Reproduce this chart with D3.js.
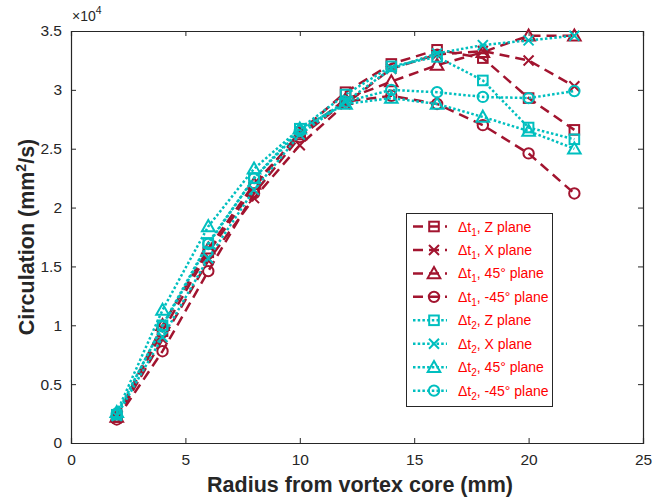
<!DOCTYPE html>
<html><head><meta charset="utf-8">
<script src="https://d3js.org/d3.v7.min.js"></script>
<style>body{margin:0;background:#fff}svg{font-family:"Liberation Sans",Arial,sans-serif}</style>
</head><body>
<svg id="c" width="654" height="498"></svg>
<script>
const radius = [2,4,6,8,10,12,14,16,18,20,22];
const t1Z   = [0.22,0.95,1.62,2.17,2.64,2.98,3.22,3.34,3.27,2.93,2.66];
const t1X   = [0.21,0.88,1.55,2.08,2.53,2.88,3.18,3.30,3.33,3.25,3.03];
const t1P45 = [0.22,1.00,1.65,2.20,2.62,2.92,3.07,3.21,3.32,3.46,3.46];
const t1M45 = [0.20,0.78,1.46,2.12,2.60,2.90,2.95,2.88,2.70,2.46,2.12];
const t2Z   = [0.24,1.00,1.70,2.25,2.67,2.96,3.20,3.28,3.08,2.68,2.58];
const t2X   = [0.23,0.90,1.57,2.15,2.62,2.90,3.18,3.31,3.38,3.42,3.46];
const t2P45 = [0.26,1.13,1.84,2.33,2.67,2.88,2.93,2.88,2.77,2.65,2.50];
const t2M45 = [0.25,0.99,1.69,2.25,2.65,2.90,3.00,2.98,2.94,2.93,2.99];
const xTicks = [0,5,10,15,20,25];
const yTicks = [0,0.5,1,1.5,2,2.5,3,3.5];
const yTickLabels = ["0","0.5","1","1.5","2","2.5","3","3.5"];
const seriesNames = ["Z plane","X plane","45° plane","-45° plane","Z plane","X plane","45° plane","-45° plane"];

const red = "#A2142F", cyan = "#00BFBF";
const series = [
  {v:t1Z, c:red, m:"square", dt:"1", name:seriesNames[0]},
  {v:t1X, c:red, m:"x", dt:"1", name:seriesNames[1]},
  {v:t1P45, c:red, m:"tri", dt:"1", name:seriesNames[2]},
  {v:t1M45, c:red, m:"circle", dt:"1", name:seriesNames[3]},
  {v:t2Z, c:cyan, m:"square", dt:"2", name:seriesNames[4]},
  {v:t2X, c:cyan, m:"x", dt:"2", name:seriesNames[5]},
  {v:t2P45, c:cyan, m:"tri", dt:"2", name:seriesNames[6]},
  {v:t2M45, c:cyan, m:"circle", dt:"2", name:seriesNames[7]}
];

const svg = d3.select("#c");
const L=71, R=643, T=31, B=443;
const x = d3.scaleLinear().domain([0,25]).range([L,R]);
const y = d3.scaleLinear().domain([0,3.5]).range([B,T]);
const axc = "#262626";

// axes
const gx = svg.append("g").attr("transform",`translate(0,${B})`)
  .call(d3.axisBottom(x).tickValues(xTicks).tickSize(-5).tickPadding(11).tickFormat(d3.format("d")));
const gxt = svg.append("g").attr("transform",`translate(0,${T})`)
  .call(d3.axisTop(x).tickValues(xTicks).tickSize(-5).tickFormat(""));
const gy = svg.append("g").attr("transform",`translate(${L},0)`)
  .call(d3.axisLeft(y).tickValues(yTicks).tickSize(-5).tickPadding(9).tickFormat((d,i)=>yTickLabels[i]));
const gyr = svg.append("g").attr("transform",`translate(${R},0)`)
  .call(d3.axisRight(y).tickValues(yTicks).tickSize(-5).tickFormat(""));
[gx,gxt,gy,gyr].forEach(g=>{
  g.select(".domain").attr("stroke",axc).attr("stroke-width",1.2);
  g.selectAll(".tick line").attr("stroke",axc).attr("stroke-width",1);
  g.selectAll("text").attr("fill",axc).style("font-size","15.5px").style("font-family","'Liberation Sans',Arial,sans-serif");
});

// x10^4
const ex = svg.append("text").attr("x",72).attr("y",21).attr("fill",axc).style("font-size","14px");
ex.append("tspan").text("×10");
ex.append("tspan").attr("dy",-7).style("font-size","10.5px").text("4");

// axis labels
svg.append("text").attr("x",(L+R)/2 + 3).attr("y",492).attr("text-anchor","middle")
  .attr("fill",axc).style("font-size","21.5px").style("font-weight","bold").text("Radius from vortex core (mm)");
const yl = svg.append("text").attr("transform",`translate(34,${(T+B)/2}) rotate(-90)`).attr("text-anchor","middle")
  .attr("fill",axc).style("font-size","21.5px").style("font-weight","bold");
yl.append("tspan").text("Circulation (mm");
yl.append("tspan").attr("dy",-8).style("font-size","14px").text("2");
yl.append("tspan").attr("dy",8).text("/s)");

function drawMarker(g, type, cx, cy, color){
  const sw = 2;
  if(type==="square"){
    g.append("rect").attr("x",cx-4.8).attr("y",cy-4.8).attr("width",9.6).attr("height",9.6)
      .attr("fill","none").attr("stroke",color).attr("stroke-width",sw);
  } else if(type==="x"){
    const s=5;
    g.append("path").attr("d",`M${cx-s},${cy-s}L${cx+s},${cy+s}M${cx-s},${cy+s}L${cx+s},${cy-s}`)
      .attr("stroke",color).attr("stroke-width",sw).attr("fill","none");
  } else if(type==="tri"){
    const s=6.3;
    g.append("path").attr("d",`M${cx},${cy-s}L${cx+s},${cy+s*0.75}L${cx-s},${cy+s*0.75}Z`)
      .attr("stroke",color).attr("stroke-width",sw).attr("fill","none");
  } else {
    g.append("circle").attr("cx",cx).attr("cy",cy).attr("r",5.2)
      .attr("stroke",color).attr("stroke-width",sw).attr("fill","none");
  }
}

const line = d3.line().x((d,i)=>x(radius[i])).y(d=>y(d));
const plot = svg.append("g");
series.forEach(s=>{
  const dashed = s.c===red;
  plot.append("path").datum(s.v).attr("d",line).attr("fill","none")
    .attr("stroke",s.c).attr("stroke-width",2.5)
    .attr("stroke-dasharray",dashed?"10,6":"2.5,2.2");
  const mg = plot.append("g");
  s.v.forEach((v,i)=>drawMarker(mg,s.m,x(radius[i]),y(v),s.c));
});

// legend
const lg = svg.append("g");
lg.append("rect").attr("x",406.5).attr("y",213.5).attr("width",146).attr("height",193)
  .attr("fill","#fff").attr("stroke","#262626").attr("stroke-width",1);
series.forEach((s,i)=>{
  const cy = 226.5 + i*23.45;
  const dashed = s.c===red;
  lg.append("line").attr("x1",413).attr("x2",447).attr("y1",cy).attr("y2",cy)
    .attr("stroke",s.c).attr("stroke-width",2.5).attr("stroke-dasharray",dashed?"10,6":"2.5,2.2");
  drawMarker(lg,s.m,434,cy,s.c);
  const t = lg.append("text").attr("x",458).attr("y",cy+5).attr("fill","#FF0000").style("font-size","14px");
  t.append("tspan").text("Δt");
  t.append("tspan").attr("dy",4).style("font-size","10px").text(s.dt);
  t.append("tspan").attr("dy",-4).text(", "+s.name);
});
</script>
</body></html>
